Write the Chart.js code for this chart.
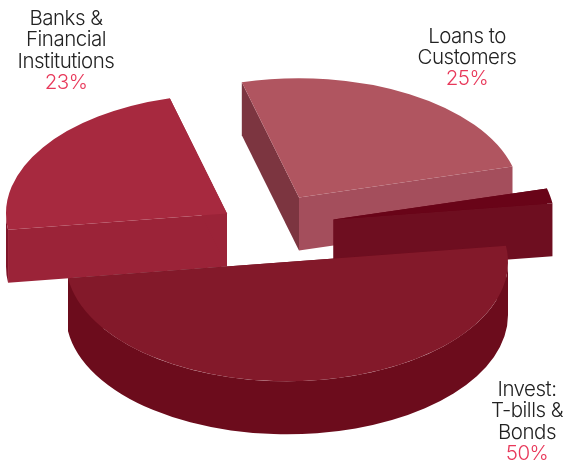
<!DOCTYPE html>
<html lang="en">
<head>
  <meta charset="UTF-8">
  <title>Balance sheet split</title>
  <style>
    html, body { margin: 0; padding: 0; background: #fff; }
    canvas { display: block; }
  </style>
</head>
<body>
  <canvas id="pie" width="565" height="463"></canvas>
  <script src="https://cdn.jsdelivr.net/npm/chart.js"></script>
  <script>
    // slices run clockwise from the upper left
    const categories = [['Loans to', 'Customers'], [], ['Invest:', 'T-bills &', 'Bonds'], ['Banks &', 'Financial', 'Institutions']];
    const shares = [25, 2, 50, 23];

    const topColors = ['#b05560', '#690418', '#83192a', '#a7293f'];
    const startWallColors = ['#7c3540', '#690418', '#6c0c1c', '#9b2338'];
    const endWallColors = ['#a44e5c', '#6e0e20', '#6c0c1c', '#9b2338'];
    const rimColors = ['#7c3540', '#6e0e20', '#6c0c1c', '#7f1529'];

    // how far each slice is pulled out of the pie, in px
    const shiftX = [16.5, 51, 4.5, -55.5];
    const shiftY = [-34, -12, 30.5, -18];
    const drawOrder = [0, 3, 1, 2];

    const labelX = [467, 0, 527, 66];
    const labelBaseline = [42.5, 0, 396, 25];

    const squash = 0.54;
    const depth = 53;

    function fillQuad(ctx, color, pts) {
      ctx.fillStyle = color;
      ctx.beginPath();
      pts.forEach((p, i) => i ? ctx.lineTo(p[0], p[1]) : ctx.moveTo(p[0], p[1]));
      ctx.closePath();
      ctx.fill();
    }

    const pie3d = {
      id: 'pie3d',
      beforeDatasetDraw(chart, args) {
        const ctx = chart.ctx;
        const arcs = args.meta.data;
        drawOrder.forEach(i => {
          const arc = arcs[i];
          const { x, y, startAngle, endAngle, outerRadius: r } = arc.getProps(['x', 'y', 'startAngle', 'endAngle', 'outerRadius'], true);
          const cx = x + shiftX[i];
          const cy = y + shiftY[i];
          const edge = a => [cx + r * Math.cos(a), cy + r * squash * Math.sin(a)];

          // the two cut faces
          [[startAngle, startWallColors[i]], [endAngle, endWallColors[i]]].forEach(([a, color]) => {
            const p = edge(a);
            fillQuad(ctx, color, [[cx, cy], p, [p[0], p[1] + depth], [cx, cy + depth]]);
          });

          // outer rim, only where it faces the viewer
          for (let k = -1; k <= 1; k++) {
            const from = Math.max(startAngle, k * 2 * Math.PI);
            const to = Math.min(endAngle, k * 2 * Math.PI + Math.PI);
            if (to <= from) continue;
            ctx.fillStyle = rimColors[i];
            ctx.beginPath();
            ctx.ellipse(cx, cy, r, r * squash, 0, from, to);
            ctx.ellipse(cx, cy + depth, r, r * squash, 0, to, from, true);
            ctx.closePath();
            ctx.fill();
          }

          // top face
          ctx.save();
          ctx.translate(cx, cy);
          ctx.scale(1, squash);
          ctx.translate(-x, -y);
          arc.draw(ctx);
          ctx.restore();
        });
        return false;
      },
      afterDraw(chart) {
        const ctx = chart.ctx;
        ctx.save();
        ctx.textAlign = 'center';
        ctx.font = '300 20.5px Inter';
        ctx.letterSpacing = '-0.5px';
        categories.forEach((lines, i) => {
          if (!lines.length) return;
          let y = labelBaseline[i];
          ctx.fillStyle = '#222';
          lines.forEach(line => {
            ctx.fillText(line, labelX[i], y);
            y += 21.4;
          });
          ctx.fillStyle = '#e8385a';
          ctx.fillText(shares[i] + '%', labelX[i], y);
        });
        ctx.restore();
      }
    };

    new Chart(document.getElementById('pie'), {
      type: 'pie',
      data: {
        labels: categories.map(c => c.join(' ')),
        datasets: [{
          data: shares,
          backgroundColor: topColors,
          borderWidth: 0,
          radius: 221
        }]
      },
      options: {
        responsive: false,
        animation: false,
        rotation: -15,
        plugins: { legend: { display: false }, tooltip: { enabled: false } }
      },
      plugins: [pie3d]
    });
  </script>
</body>
</html>
